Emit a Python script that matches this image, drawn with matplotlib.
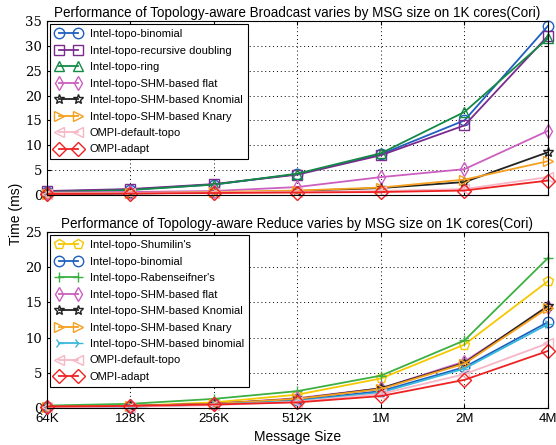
import matplotlib
matplotlib.use("Agg")
import matplotlib.pyplot as plt

sizes = ["64K", "128K", "256K", "512K", "1M", "2M", "4M"]

bcast_labels = ["Intel-topo-binomial", "Intel-topo-recursive doubling", "Intel-topo-ring",
                "Intel-topo-SHM-based flat", "Intel-topo-SHM-based Knomial",
                "Intel-topo-SHM-based Knary", "OMPI-default-topo", "OMPI-adapt"]
bcast_binomial = [0.7, 1.1, 2.1, 4.2, 8.2, 15.0, 34.0]
bcast_recdbl = [0.8, 1.2, 2.2, 4.1, 8.0, 14.0, 32.0]
bcast_ring = [0.6, 1.0, 2.1, 4.3, 8.4, 16.7, 31.5]
bcast_shm_flat = [0.5, 0.6, 0.8, 1.6, 3.6, 5.2, 12.9]
bcast_shm_knomial = [0.2, 0.3, 0.5, 0.8, 1.4, 2.6, 8.6]
bcast_shm_knary = [0.3, 0.4, 0.6, 0.9, 1.5, 3.1, 6.8]
bcast_ompi_default = [0.3, 0.4, 0.5, 0.6, 0.8, 1.2, 3.6]
bcast_ompi_adapt = [0.2, 0.3, 0.4, 0.5, 0.6, 0.9, 2.9]

red_labels = ["Intel-topo-Shumilin's", "Intel-topo-binomial", "Intel-topo-Rabenseifner's",
              "Intel-topo-SHM-based flat", "Intel-topo-SHM-based Knomial",
              "Intel-topo-SHM-based Knary", "Intel-topo-SHM-based binomial",
              "OMPI-default-topo", "OMPI-adapt"]
red_shumilin = [0.2, 0.3, 0.8, 1.9, 4.2, 9.0, 18.0]
red_binomial = [0.1, 0.2, 0.5, 1.1, 2.4, 5.8, 12.2]
red_raben = [0.35, 0.6, 1.3, 2.4, 4.6, 9.6, 21.3]
red_shm_flat = [0.2, 0.3, 0.6, 1.4, 2.8, 6.6, 14.3]
red_shm_knomial = [0.2, 0.3, 0.6, 1.3, 2.8, 6.4, 14.5]
red_shm_knary = [0.2, 0.3, 0.6, 1.3, 2.7, 6.3, 14.2]
red_shm_binomial = [0.1, 0.2, 0.5, 1.0, 2.2, 5.6, 11.9]
red_ompi_default = [0.1, 0.2, 0.4, 0.9, 2.0, 4.8, 9.2]
red_ompi_adapt = [0.2, 0.3, 0.5, 0.8, 1.7, 4.0, 8.1]

plt.rcParams['font.family'] = ['Liberation Sans', 'DejaVu Sans']

fig = plt.figure(figsize=(5.56, 4.45), dpi=100)
ax1 = fig.add_axes([0.0845, 0.5618, 0.901, 0.391])
ax2 = fig.add_axes([0.0845, 0.0831, 0.901, 0.3956])

x = list(range(len(sizes)))

bstyles = [
    (bcast_binomial, "#1f5fbf", "o"),
    (bcast_recdbl, "#7b2a8e", "s"),
    (bcast_ring, "#138a45", "^"),
    (bcast_shm_flat, "#cc5fbf", "d"),
    (bcast_shm_knomial, "#222222", "*"),
    (bcast_shm_knary, "#f5a020", ">"),
    (bcast_ompi_default, "#f7b6c6", "<"),
    (bcast_ompi_adapt, "#ee2222", "D"),
]
for (vals, c, m), lab in zip(bstyles, bcast_labels):
    ax1.plot(x, vals, color=c, marker=m, mfc='none', mec=c, ms=7.5, lw=1.3, label=lab,
             clip_on=False)

rstyles = [
    (red_shumilin, "#f5c800", "p"),
    (red_binomial, "#1f5fbf", "o"),
    (red_raben, "#3cb043", "+"),
    (red_shm_flat, "#cc5fbf", "d"),
    (red_shm_knomial, "#222222", "*"),
    (red_shm_knary, "#f5a020", ">"),
    (red_shm_binomial, "#3bb8dc", "4"),
    (red_ompi_default, "#f7b6c6", "<"),
    (red_ompi_adapt, "#ee2222", "D"),
]
for (vals, c, m), lab in zip(rstyles, red_labels):
    ax2.plot(x, vals, color=c, marker=m, mfc='none', mec=c, ms=7.5, lw=1.3, label=lab,
             clip_on=False)

for ax, ymax in ((ax1, 35), (ax2, 25)):
    ax.set_xlim(0, 6)
    ax.set_ylim(0, ymax)
    ax.set_yticks(range(0, ymax + 1, 5))
    ax.set_xticks(x)
    ax.grid(True, color='black', linestyle=(0, (1, 3)), linewidth=0.7)
    ax.tick_params(direction='in', length=3, top=True, right=True)
    for lbl in ax.get_yticklabels():
        lbl.set_family('DejaVu Serif')
        lbl.set_fontsize(9.5)
    leg = ax.legend(loc='upper left', numpoints=2, fontsize=8, fancybox=False,
                    edgecolor='black', framealpha=1, handlelength=2.3,
                    borderaxespad=0.3, labelspacing=0.58, borderpad=0.45)
    leg.get_frame().set_linewidth(0.8)
    leg.set_zorder(5)

ax1.set_xticklabels([])
ax2.set_xticklabels(sizes, fontsize=9.5)
ax1.set_title("Performance of Topology-aware Broadcast varies by MSG size on 1K cores(Cori)",
              fontsize=9.75, pad=3)
ax2.set_title("Performance of Topology-aware Reduce varies by MSG size on 1K cores(Cori)",
              fontsize=9.75, pad=3)
ax2.set_xlabel("Message Size", fontsize=10)
fig.text(0.028, 0.52, "Time (ms)", rotation=90, va='center', ha='center', fontsize=10)

fig.savefig("out.png", dpi=100)
